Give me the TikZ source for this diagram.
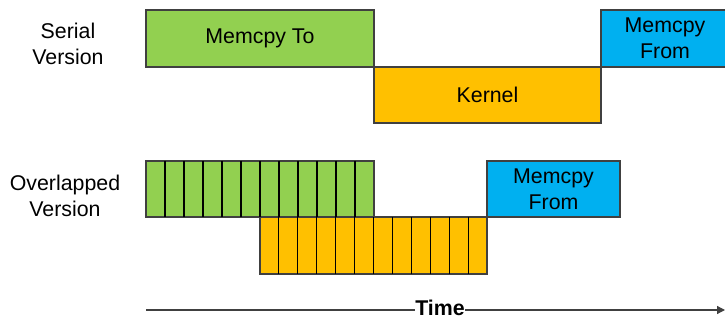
\documentclass[tikz,border=0pt]{standalone}
\usepackage{fontspec}
\setmainfont{Liberation Sans}
\usetikzlibrary{arrows.meta}
\definecolor{mgreen}{HTML}{92D050}
\definecolor{morange}{HTML}{FFC000}
\definecolor{mblue}{HTML}{00B0F0}
\definecolor{bord}{HTML}{404040}
\begin{document}
\begin{tikzpicture}[x=0.75pt,y=-0.75pt,
  box/.style={draw=bord,line width=0.9pt,inner sep=0pt,outer sep=0pt,anchor=north west,
    font=\fontsize{16}{19.5}\selectfont,align=center,text=black},
  lbl/.style={font=\fontsize{16}{19.5}\selectfont,align=center},
  cell/.style={draw=black,line width=0.8pt}]
\useasboundingbox (0,0) rectangle (725,320);
\clip (0,0) rectangle (725,320);
% labels
\node[lbl] (ser) at (68,44) {Serial\\Version};
\node[lbl] (ovl) at (65,196) {Overlapped\\Version};
% serial
\node[box,fill=mgreen,minimum width=171pt,minimum height=42.75pt] (to) at (146,10) {Memcpy To};
\node[box,fill=morange,minimum width=170.25pt,minimum height=42pt] (ker) at (374,67) {Kernel};
\node[box,fill=mblue,minimum width=96pt,minimum height=42.75pt,text width=94pt] (from) at (601,10) {Memcpy\\From};
% overlapped
\node[box,fill=mgreen,minimum width=171pt,minimum height=42pt] (g) at (146,161) {};
\node[box,fill=morange,minimum width=170.25pt,minimum height=42.75pt] (o) at (260,217) {};
\node[box,fill=mblue,minimum width=99.75pt,minimum height=42pt] (from2) at (487,161) {Memcpy\\From};
\foreach \i in {1,...,11}{
  \draw[cell] (g.north west) ++(\i*19,0) -- ++(0,56);
  \draw[cell] (o.north west) ++(\i*18.92,0) -- ++(0,57);
}
% time axis
\coordinate (ts) at (146,310);
\coordinate (te) at (725,310);
\node[font=\bfseries\fontsize{16}{19}\selectfont,inner sep=0pt] (time) at (440,308) {Time};
\draw[bord,line width=0.9pt] (ts) -- (time.west |- ts);
\draw[bord,line width=0.9pt,-{Triangle[length=6pt,width=6pt]}] (time.east |- te) -- (te);
\end{tikzpicture}
\end{document}
